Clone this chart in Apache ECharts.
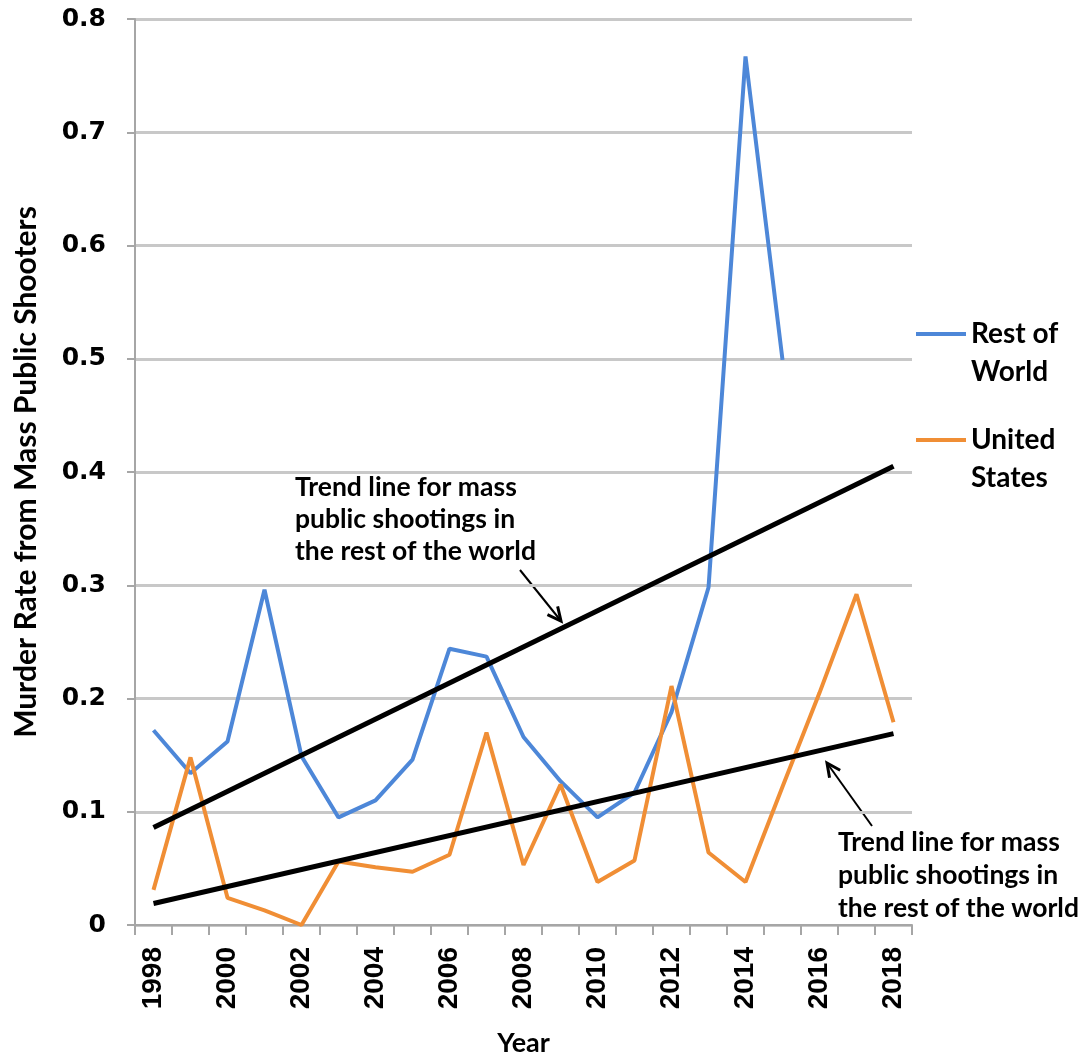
<!DOCTYPE html>
<html>
<head>
<meta charset="utf-8">
<script src="https://cdn.jsdelivr.net/npm/echarts@6/dist/echarts.min.js"></script>
<style>
  html, body { margin: 0; padding: 0; background: #fff; }
  #chart { width: 1085px; height: 1057px; }
</style>
</head>
<body>
<div id="chart"></div>
<script>
// years on the x axis
var years = ['1998', '1999', '2000', '2001', '2002', '2003', '2004', '2005', '2006', '2007',
  '2008', '2009', '2010', '2011', '2012', '2013', '2014', '2015', '2016', '2017', '2018'];

// murder rate
var restOfWorld = [0.172, 0.134, 0.162, 0.296, 0.149, 0.095, 0.110, 0.146, 0.244, 0.237,
  0.166, 0.127, 0.095, 0.117, 0.188, 0.298, 0.767, 0.499, null, null, null];
var unitedStates = [0.031, 0.148, 0.024, 0.013, 0.000, 0.056, 0.051, 0.047, 0.062, 0.170,
  0.053, 0.124, 0.038, 0.057, 0.211, 0.064, 0.038, 0.122, 0.205, 0.292, 0.179];

// trend lines: value at first and last year
var rowTrend = [0.086, 0.405];
var usTrend = [0.019, 0.169];

var yTicks = [0, 0.1, 0.2, 0.3, 0.4, 0.5, 0.6, 0.7, 0.8];

var annotationText = 'Trend line for mass\npublic shootings in\nthe rest of the world';

// trend series: only both ends, joined across the gap
function trendData(ends) {
  var d = years.map(function () { return null; });
  d[0] = ends[0];
  d[years.length - 1] = ends[1];
  return d;
}

function arrow(x1, y1, x2, y2) {
  var a = Math.atan2(y2 - y1, x2 - x1), len = 15, w = 0.45;
  return [
    { type: 'line', shape: { x1: x1, y1: y1, x2: x2, y2: y2 }, style: { stroke: '#000', lineWidth: 2 } },
    { type: 'polyline', shape: { points: [
        [x2 - len * Math.cos(a - w), y2 - len * Math.sin(a - w)],
        [x2, y2],
        [x2 - len * Math.cos(a + w), y2 - len * Math.sin(a + w)]
      ] }, style: { stroke: '#000', lineWidth: 3, fill: null } }
  ];
}

var myChart = echarts.init(document.getElementById('chart'));

var graphics = [
  { type: 'text', left: 295, top: 471,
    style: { text: annotationText, font: 'bold 26.5px Lato', lineHeight: 32, fill: '#000' } },
  { type: 'text', left: 838, top: 826,
    style: { text: annotationText, font: 'bold 26.5px Lato', lineHeight: 33, fill: '#000' } }
].concat(arrow(520, 570, 561, 621)).concat(arrow(872, 826, 827, 763));

myChart.setOption({
  animation: false,
  backgroundColor: '#fff',
  grid: { left: 135, right: 173, top: 19, bottom: 132, containLabel: false, outerBoundsMode: 'none' },
  legend: {
    left: 911, top: 272,
    orient: 'vertical',
    itemWidth: 50,
    itemHeight: 4,
    itemGap: -3,
    icon: 'rect',
    data: ['Rest of\nWorld', 'United\nStates'],
    // empty first row so the line sits level with the first text row
    formatter: function (name) {
      return '{s| }\n' + name.split('\n').map(function (t) { return '{t|' + t + '}'; }).join('\n');
    },
    textStyle: {
      color: '#000',
      rich: {
        s: { fontSize: 10, lineHeight: 38, height: 38 },
        t: { fontFamily: 'Lato', fontWeight: 'bold', fontSize: 28, lineHeight: 38, color: '#000' }
      }
    }
  },
  xAxis: {
    type: 'category',
    data: years,
    boundaryGap: true,
    name: 'Year',
    nameLocation: 'middle',
    nameGap: 105,
    nameTextStyle: { fontFamily: 'Lato', fontWeight: 'bold', fontSize: 27, color: '#000' },
    axisLine: { lineStyle: { color: '#a6a6a6', width: 2 } },
    axisTick: { show: true, interval: 0, length: 10, lineStyle: { color: '#a6a6a6', width: 2 } },
    axisLabel: { interval: 1, rotate: 90, margin: 22, fontFamily: 'Liberation Sans',
      fontWeight: 'bold', fontSize: 28, color: '#000' },
    splitLine: { show: false }
  },
  yAxis: {
    type: 'value',
    min: yTicks[0],
    max: yTicks[yTicks.length - 1],
    interval: 0.1,
    name: 'Murder Rate from Mass Public Shooters',
    nameLocation: 'middle',
    nameGap: 94,
    nameRotate: 90,
    nameTextStyle: { fontFamily: 'Lato', fontWeight: 'bold', fontSize: 30, color: '#000' },
    axisLine: { show: true, lineStyle: { color: '#a6a6a6', width: 2 } },
    axisTick: { show: true, length: 8, lineStyle: { color: '#a6a6a6', width: 2 } },
    axisLabel: { margin: 29, fontFamily: 'DejaVu Sans', fontWeight: 'bold', fontSize: 25,
      color: '#000', formatter: function (v) { return String(Math.round(v * 10) / 10); } },
    splitLine: { lineStyle: { color: '#c8c8c8', width: 3 } }
  },
  series: [
    {
      name: 'Rest of\nWorld', type: 'line', data: restOfWorld,
      showSymbol: false, symbol: 'none',
      lineStyle: { color: '#4d87d8', width: 4 }, itemStyle: { color: '#4d87d8' }, z: 3
    },
    {
      name: 'United\nStates', type: 'line', data: unitedStates,
      showSymbol: false, symbol: 'none',
      lineStyle: { color: '#f08e35', width: 4 }, itemStyle: { color: '#f08e35' }, z: 3
    },
    {
      name: 'Trend (rest of world)', type: 'line', data: trendData(rowTrend),
      connectNulls: true, showSymbol: false, symbol: 'none',
      lineStyle: { color: '#000', width: 5 }, z: 4
    },
    {
      name: 'Trend (United States)', type: 'line', data: trendData(usTrend),
      connectNulls: true, showSymbol: false, symbol: 'none',
      lineStyle: { color: '#000', width: 5 }, z: 4
    }
  ],
  graphic: graphics
});
</script>
</body>
</html>
